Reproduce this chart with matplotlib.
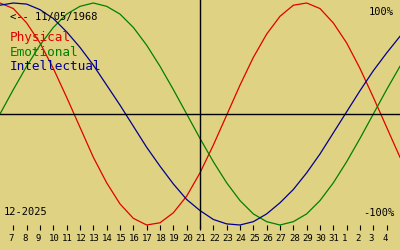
import numpy as np
import matplotlib
matplotlib.use('Agg')
import matplotlib.pyplot as plt
import matplotlib.transforms as mtransforms

# days counted from start of month, 32.. = January
days = np.arange(6, 37)
physical = [1.00, 0.95, 0.82, 0.64, 0.41, 0.15, -0.12, -0.39, -0.62, -0.81, -0.94,
            -1.00, -0.98, -0.89, -0.74, -0.53, -0.28, -0.01, 0.26, 0.51, 0.72,
            0.88, 0.98, 1.00, 0.95, 0.82, 0.64, 0.41, 0.15, -0.12, -0.39]
emotional = [0.00, 0.22, 0.43, 0.62, 0.78, 0.90, 0.97, 1.00, 0.97, 0.90, 0.78,
             0.62, 0.43, 0.22, 0.00, -0.22, -0.43, -0.62, -0.78, -0.90, -0.97,
             -1.00, -0.97, -0.90, -0.78, -0.62, -0.43, -0.22, 0.00, 0.22, 0.43]
intellectual = [0.98, 1.00, 0.99, 0.94, 0.86, 0.74, 0.60, 0.44, 0.26, 0.08, -0.11,
                -0.30, -0.47, -0.63, -0.77, -0.87, -0.95, -0.99, -1.00, -0.97, -0.90,
                -0.80, -0.68, -0.53, -0.36, -0.17, 0.02, 0.21, 0.39, 0.55, 0.70]

tick_days = np.arange(7, 36)
tick_labels = [str(d) for d in range(7, 32)] + ['1', '2', '3', '4']
today = 21

bg = '#e0d283'
red = '#e00000'
green = '#008000'
blue = '#000090'

fig = plt.figure(figsize=(4, 2.5), dpi=100, facecolor=bg)
# axes from top of figure down to pixel row 225
ax = fig.add_axes([0, 25 / 250, 1, 225 / 250])
ax.set_facecolor(bg)
for s in ax.spines.values():
    s.set_visible(False)

ax.set_xlim(6, 36)
ax.set_ylim(-1.0, 1.027)

ax.plot(days, physical, color=red, lw=0.9, clip_on=False)
ax.plot(days, emotional, color=green, lw=0.9, clip_on=False)
ax.plot(days, intellectual, color=blue, lw=0.9, clip_on=False)

ax.axhline(0, color='black', lw=1.0)
ax.axvline(today, ymin=-3 / 225, ymax=1, color='black', lw=1.0, clip_on=False)

ax.set_yticks([])
ax.set_xticks(tick_days)
ax.set_xticklabels(tick_labels, family='DejaVu Sans Mono', fontsize=6.5, ha='left')
ax.tick_params(axis='x', direction='out', length=3.6, width=0.8, color='black', pad=3)
shift = mtransforms.ScaledTranslation(-4.5 / 100, 0, fig.dpi_scale_trans)
for lab in ax.get_xticklabels():
    lab.set_transform(lab.get_transform() + shift)

def px(x, y):
    return x / 400, 1 - y / 250

mono = 'DejaVu Sans Mono'
fig.text(*px(10, 17), '<-- 11/05/1968', family=mono, fontsize=7.5, va='center')
fig.text(*px(394, 12), '100%', family=mono, fontsize=7.5, va='center', ha='right')
fig.text(*px(394, 213), '-100%', family=mono, fontsize=7.5, va='center', ha='right')
fig.text(*px(4, 212), '12-2025', family=mono, fontsize=7.5, va='center')

fig.text(*px(10, 38), 'Physical', family=mono, fontsize=9.2, va='center', color=red)
fig.text(*px(10, 52), 'Emotional', family=mono, fontsize=9.2, va='center', color=green)
fig.text(*px(10, 67), 'Intellectual', family=mono, fontsize=9.2, va='center', color=blue)

fig.savefig('out.png', dpi=100, facecolor=bg)
